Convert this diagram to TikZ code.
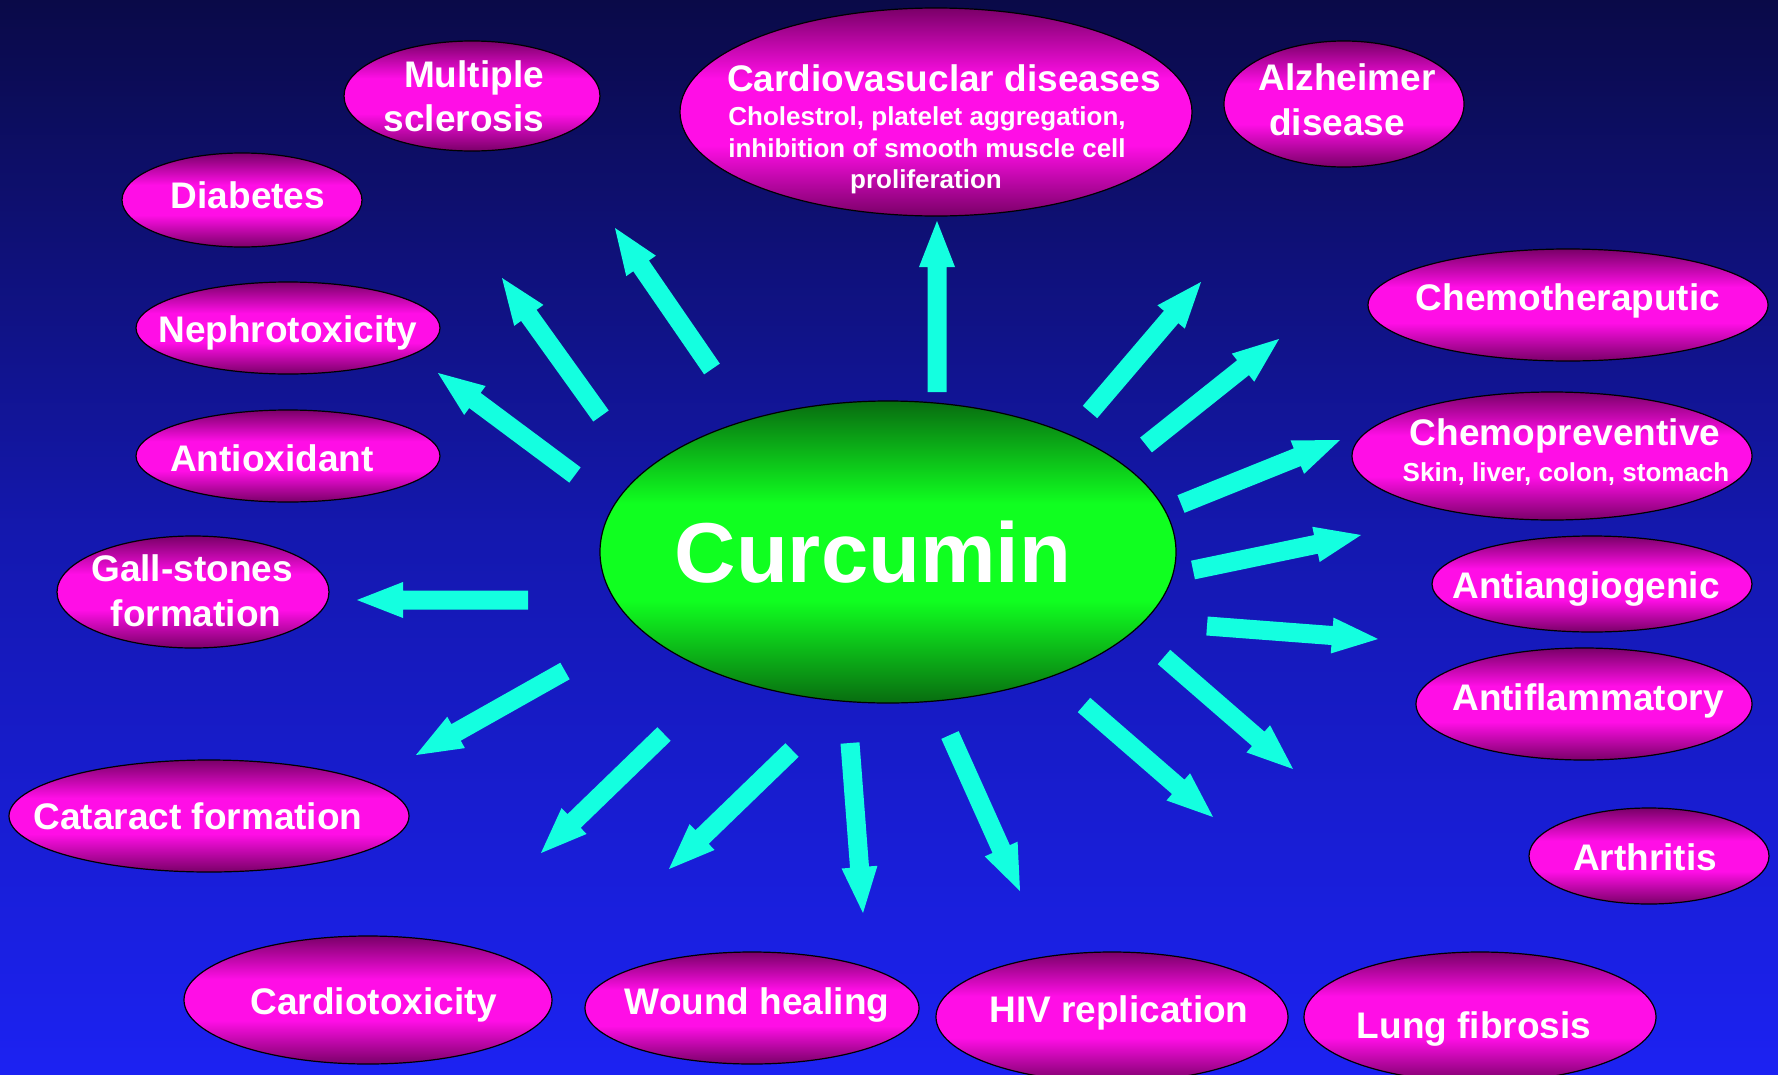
\documentclass[tikz,border=0pt]{standalone}
\usepackage{fontspec}
\setmainfont{Liberation Sans}
\usetikzlibrary{shapes.geometric,calc}
\definecolor{bgtop}{RGB}{10,10,72}
\definecolor{bgmid}{RGB}{20,24,175}
\definecolor{bgbot}{RGB}{28,34,242}
\definecolor{pdark}{RGB}{122,0,104}
\definecolor{pbright}{RGB}{255,14,230}
\definecolor{gdark}{RGB}{8,108,16}
\definecolor{gbright}{RGB}{16,255,32}
\definecolor{arrowcol}{RGB}{20,255,224}
\pgfdeclareverticalshading{bgshade}{100bp}{color(0bp)=(bgbot); color(25bp)=(bgbot); color(50bp)=(bgmid); color(75bp)=(bgtop); color(100bp)=(bgtop)}
\pgfdeclareverticalshading{pinkshade}{100bp}{color(0bp)=(pdark); color(25bp)=(pdark); color(42bp)=(pbright); color(58bp)=(pbright); color(75bp)=(pdark); color(100bp)=(pdark)}
\pgfdeclareverticalshading{greenshade}{100bp}{color(0bp)=(gdark); color(25bp)=(gdark); color(42bp)=(gbright); color(58bp)=(gbright); color(75bp)=(gdark); color(100bp)=(gdark)}
\newcommand\curarrow[2]{%
  \coordinate (hb) at ($(#2)!46pt!(#1)$);
  \fill[arrowcol] ($(#1)!9.5pt!90:(#2)$) -- ($(hb)!9.5pt!90:(#2)$) -- ($(hb)!18pt!90:(#2)$) -- (#2)
    -- ($(hb)!18pt!-90:(#2)$) -- ($(hb)!9.5pt!-90:(#2)$) -- ($(#1)!9.5pt!-90:(#2)$) -- cycle;
}
\tikzset{
  pinkell/.style={ellipse, draw=black, line width=1.2pt, shading=pinkshade, inner sep=0pt},
  greenell/.style={ellipse, draw=black, line width=1.2pt, shading=greenshade, inner sep=0pt},
  lbl/.style={text=white, font=\bfseries\fontsize{37}{44}\selectfont, inner sep=0pt, anchor=base},
  sublbl/.style={lbl, font=\bfseries\fontsize{26}{31}\selectfont},
  biglbl/.style={lbl, font=\bfseries\fontsize{85}{100}\selectfont}
}
\begin{document}
\begin{tikzpicture}[x=1pt,y=-1pt]
\useasboundingbox (0,0) rectangle (1778,1074);
\shade[shading=bgshade] (0,0) rectangle (1778,1074);

% ellipses
\node[pinkell, minimum width=256, minimum height=110] (ms) at (472,96) {};
\node[pinkell, minimum width=512, minimum height=208] (cvd) at (936,112) {};
\node[pinkell, minimum width=240, minimum height=126] (alz) at (1344,104) {};
\node[pinkell, minimum width=240, minimum height=94] (diab) at (242,200) {};
\node[pinkell, minimum width=304, minimum height=92] (neph) at (288,328) {};
\node[pinkell, minimum width=304, minimum height=92] (antiox) at (288,456) {};
\node[pinkell, minimum width=272, minimum height=112] (gall) at (193,592) {};
\node[pinkell, minimum width=400, minimum height=112] (cat) at (209,816) {};
\node[pinkell, minimum width=368, minimum height=128] (ctox) at (368,1000) {};
\node[pinkell, minimum width=334, minimum height=112] (wound) at (752,1008) {};
\node[pinkell, minimum width=352, minimum height=130] (hiv) at (1112,1017) {};
\node[pinkell, minimum width=352, minimum height=130] (lung) at (1480,1017) {};
\node[pinkell, minimum width=240, minimum height=96] (arth) at (1649,856) {};
\node[pinkell, minimum width=336, minimum height=112] (antifl) at (1584,704) {};
\node[pinkell, minimum width=320, minimum height=96] (antiang) at (1592,584) {};
\node[pinkell, minimum width=400, minimum height=128] (cprev) at (1552,456) {};
\node[pinkell, minimum width=400, minimum height=112] (cther) at (1568,305) {};
\node[greenell, minimum width=576, minimum height=302] (cur) at (888,552) {};

% labels
\node[lbl] (ms1) at (474,87) {Multiple};
\node[lbl] (ms2) at (464,131) {sclerosis};
\node[lbl] (cvd0) at (944,91) {Cardiovasuclar diseases};
\node[sublbl] (cvd1) at (927,125) {Cholestrol, platelet aggregation,};
\node[sublbl] (cvd2) at (927,157) {inhibition of smooth muscle cell};
\node[sublbl] (cvd3) at (926,188) {proliferation};
\node[lbl] (alz1) at (1347,90) {Alzheimer};
\node[lbl] (alz2) at (1337,135) {disease};
\node[lbl] (diab1) at (248,208) {Diabetes};
\node[lbl] (neph1) at (288,342) {Nephrotoxicity};
\node[lbl] (antiox1) at (272,471) {Antioxidant};
\node[lbl] (gall1) at (192,581) {Gall-stones};
\node[lbl] (gall2) at (196,626) {formation};
\node[lbl] (cat1) at (198,829) {Cataract formation};
\node[lbl] (ctox1) at (374,1014) {Cardiotoxicity};
\node[lbl] (wound1) at (757,1014) {Wound healing};
\node[lbl] (hiv1) at (1119,1022) {HIV replication};
\node[lbl] (lung1) at (1474,1038) {Lung fibrosis};
\node[lbl] (arth1) at (1645,870) {Arthritis};
\node[lbl] (antifl1) at (1588,710) {Antiflammatory};
\node[lbl] (antiang1) at (1586,598) {Antiangiogenic};
\node[lbl] (cprev1) at (1565,445) {Chemopreventive};
\node[sublbl] (cprev2) at (1566,481) {Skin, liver, colon, stomach};
\node[lbl] (cther1) at (1568,310) {Chemotheraputic};
\node[biglbl] (cur1) at (873,582) {Curcumin};

% arrows
\coordinate (t1) at (712,369);  \coordinate (p1) at (615,228);
\coordinate (t2) at (601,416);  \coordinate (p2) at (502,278);
\coordinate (t3) at (575,475);  \coordinate (p3) at (438,373);
\coordinate (t4) at (528,600);  \coordinate (p4) at (357,600);
\coordinate (t5) at (565,671);  \coordinate (p5) at (416,755);
\coordinate (t6) at (664,734);  \coordinate (p6) at (541,853);
\coordinate (t7) at (792,750);  \coordinate (p7) at (669,869);
\coordinate (t8) at (850,743);  \coordinate (p8) at (863,913);
\coordinate (t9) at (950,735);  \coordinate (p9) at (1020,891);
\coordinate (t10) at (1084,705); \coordinate (p10) at (1213,817);
\coordinate (t11) at (1164,657); \coordinate (p11) at (1293,769);
\coordinate (t12) at (1207,626); \coordinate (p12) at (1378,639);
\coordinate (t13) at (1193,570); \coordinate (p13) at (1361,535);
\coordinate (t14) at (1181,504); \coordinate (p14) at (1340,440);
\coordinate (t15) at (1146,445); \coordinate (p15) at (1279,339);
\coordinate (t16) at (1090,412); \coordinate (p16) at (1201,282);
\coordinate (t17) at (937,392);  \coordinate (p17) at (937,221);
\foreach \i in {1,...,17} {\curarrow{t\i}{p\i}}
\end{tikzpicture}
\end{document}
